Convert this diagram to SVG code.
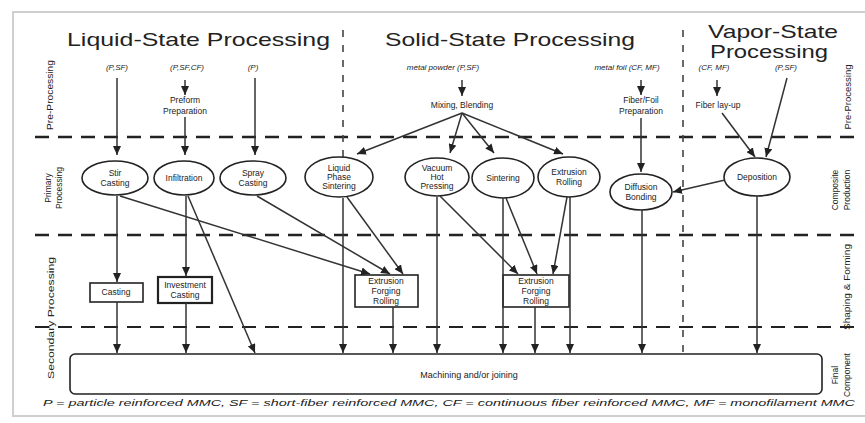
<svg xmlns="http://www.w3.org/2000/svg" width="865" height="423" viewBox="0 0 865 423">
<defs>
<marker id="ah" markerUnits="userSpaceOnUse" markerWidth="9" markerHeight="8" refX="9" refY="4" orient="auto">
<path d="M0,0 L9,4 L0,8 z" fill="#222"/>
</marker>
<style>
text{font-family:"Liberation Sans",Arial,sans-serif;fill:#222}
.title{font-size:19px}
.lbl{font-size:8.5px;text-anchor:middle}
.it{font-size:8px;font-style:italic;text-anchor:middle}
.side{font-size:8.5px;text-anchor:middle}
.node{fill:#fff;stroke:#222;stroke-width:1.6}
.hd{stroke:#222;stroke-width:2.4;stroke-dasharray:14 9;fill:none}
.vd{stroke:#444;stroke-width:1.6;stroke-dasharray:7 8;fill:none}
#connectors line{stroke:#333;stroke-width:1.5;marker-end:url(#ah)}
</style>
</defs>
<rect x="0" y="0" width="865" height="423" fill="#fff"/>
<rect x="13" y="12" width="860" height="404" fill="none" stroke="#cfcfcf" stroke-width="2"/>

<!-- titles -->
<text class="title" x="67" y="46" textLength="263" lengthAdjust="spacingAndGlyphs">Liquid-State Processing</text>
<text class="title" x="385" y="46" textLength="250" lengthAdjust="spacingAndGlyphs">Solid-State Processing</text>
<text class="title" x="708" y="38" textLength="130" lengthAdjust="spacingAndGlyphs">Vapor-State</text>
<text class="title" x="710" y="58" textLength="118" lengthAdjust="spacingAndGlyphs">Processing</text>

<!-- dashed grid -->
<g id="grid">
<line class="hd" x1="35" y1="137" x2="860" y2="137"/>
<line class="hd" x1="35" y1="235" x2="860" y2="235"/>
<line class="hd" x1="35" y1="327" x2="860" y2="327" style="stroke-width:2"/>
<line class="vd" x1="343" y1="30" x2="343" y2="157"/>
<line class="vd" x1="683" y1="30" x2="683" y2="352"/>
</g>

<!-- side labels -->
<g id="side-labels">
<text class="side" transform="translate(53,95) rotate(-90)" textLength="70" lengthAdjust="spacingAndGlyphs">Pre-Processing</text>
<text class="side" transform="translate(51,188) rotate(-90)">Primary</text>
<text class="side" transform="translate(62,188) rotate(-90)">Processing</text>
<text class="side" transform="translate(54,318) rotate(-90)" textLength="122" lengthAdjust="spacingAndGlyphs">Secondary Processing</text>
<text class="side" transform="translate(851,97) rotate(-90)" textLength="65" lengthAdjust="spacingAndGlyphs">Pre-Processing</text>
<text class="side" transform="translate(838,190) rotate(-90)">Composite</text>
<text class="side" transform="translate(850,190) rotate(-90)">Production</text>
<text class="side" transform="translate(850,287) rotate(-90)" textLength="86" lengthAdjust="spacingAndGlyphs">Shaping &amp; Forming</text>
<text class="side" transform="translate(838,375) rotate(-90)">Final</text>
<text class="side" transform="translate(850,375) rotate(-90)">Component</text>
</g>

<!-- pre-processing labels -->
<g id="pre">
<text class="it" x="117" y="70">(P,SF)</text>
<text class="it" x="187" y="70">(P,SF,CF)</text>
<text class="it" x="253" y="70">(P)</text>
<text class="lbl" x="185" y="103">Preform</text>
<text class="lbl" x="185" y="114">Preparation</text>
<text class="it" x="443" y="70">metal powder (P,SF)</text>
<text class="lbl" x="462" y="108">Mixing, Blending</text>
<text class="it" x="627" y="70">metal foil (CF, MF)</text>
<text class="lbl" x="641" y="103">Fiber/Foil</text>
<text class="lbl" x="641" y="114">Preparation</text>
<text class="it" x="714" y="70">(CF, MF)</text>
<text class="it" x="786" y="70">(P,SF)</text>
<text class="lbl" x="718" y="108">Fiber lay-up</text>
</g>

<!-- primary nodes -->
<g id="stir-casting"><ellipse class="node" cx="115" cy="178" rx="33" ry="17"/><text class="lbl" x="115" y="176">Stir</text><text class="lbl" x="115" y="186">Casting</text></g>
<g id="infiltration"><ellipse class="node" cx="184" cy="178" rx="30" ry="17"/><text class="lbl" x="184" y="181">Infiltration</text></g>
<g id="spray-casting"><ellipse class="node" cx="253" cy="178" rx="33" ry="17"/><text class="lbl" x="253" y="176">Spray</text><text class="lbl" x="253" y="186">Casting</text></g>
<g id="liquid-phase-sintering"><ellipse class="node" cx="339" cy="177" rx="34" ry="20"/><text class="lbl" x="339" y="171">Liquid</text><text class="lbl" x="339" y="180">Phase</text><text class="lbl" x="339" y="189">Sintering</text></g>
<g id="vacuum-hot-pressing"><ellipse class="node" cx="437" cy="177" rx="32" ry="19"/><text class="lbl" x="437" y="171">Vacuum</text><text class="lbl" x="437" y="180">Hot</text><text class="lbl" x="437" y="189">Pressing</text></g>
<g id="sintering"><ellipse class="node" cx="503" cy="178" rx="31" ry="20"/><text class="lbl" x="503" y="181">Sintering</text></g>
<g id="extrusion-rolling"><ellipse class="node" cx="569" cy="177" rx="31" ry="20"/><text class="lbl" x="569" y="175">Extrusion</text><text class="lbl" x="569" y="185">Rolling</text></g>
<g id="diffusion-bonding"><ellipse class="node" cx="641" cy="192" rx="31" ry="18"/><text class="lbl" x="641" y="190">Diffusion</text><text class="lbl" x="641" y="200">Bonding</text></g>
<g id="deposition"><ellipse class="node" cx="757" cy="177" rx="33" ry="19"/><text class="lbl" x="757" y="180">Deposition</text></g>

<!-- secondary nodes -->
<g id="casting"><rect class="node" x="90" y="283" width="53" height="19"/><text class="lbl" x="116" y="295">Casting</text></g>
<g id="investment-casting"><rect class="node" x="158" y="277" width="54" height="26" style="stroke-width:2.2"/><text class="lbl" x="185" y="288">Investment</text><text class="lbl" x="185" y="298">Casting</text></g>
<g id="extrusion-forging-rolling-1"><rect class="node" x="355" y="275" width="63" height="32"/><text class="lbl" x="386" y="284">Extrusion</text><text class="lbl" x="386" y="294">Forging</text><text class="lbl" x="386" y="304">Rolling</text></g>
<g id="extrusion-forging-rolling-2"><rect class="node" x="503" y="275" width="66" height="32"/><text class="lbl" x="536" y="284">Extrusion</text><text class="lbl" x="536" y="294">Forging</text><text class="lbl" x="536" y="304">Rolling</text></g>

<!-- final -->
<g id="machining"><rect class="node" x="70" y="354" width="752" height="40" rx="5"/><text class="lbl" x="469" y="378" style="font-size:9px">Machining and/or joining</text></g>

<g id="connectors">
<line x1="117" y1="78" x2="117" y2="155"/>
<line x1="185" y1="80" x2="185" y2="95"/>
<line x1="185" y1="117" x2="185" y2="155"/>
<line x1="255" y1="78" x2="255" y2="155"/>
<line x1="462" y1="80" x2="462" y2="96"/>
<line x1="462" y1="113" x2="357" y2="154"/>
<line x1="462" y1="113" x2="450" y2="153"/>
<line x1="462" y1="113" x2="494" y2="153"/>
<line x1="462" y1="113" x2="563" y2="154"/>
<line x1="641" y1="80" x2="641" y2="95"/>
<line x1="641" y1="118" x2="641" y2="172"/>
<line x1="717" y1="80" x2="717" y2="96"/>
<line x1="722" y1="113" x2="755" y2="157"/>
<line x1="787" y1="78" x2="766" y2="157"/>
<line x1="725" y1="180" x2="673" y2="192"/>
<line x1="117" y1="196" x2="117" y2="282"/>
<line x1="120" y1="196" x2="370" y2="274"/>
<line x1="186" y1="196" x2="186" y2="276"/>
<line x1="188" y1="196" x2="255" y2="353"/>
<line x1="257" y1="196" x2="390" y2="274"/>
<line x1="343" y1="198" x2="343" y2="353"/>
<line x1="347" y1="197" x2="403" y2="274"/>
<line x1="437" y1="197" x2="437" y2="353"/>
<line x1="440" y1="196" x2="518" y2="274"/>
<line x1="503" y1="198" x2="503" y2="353"/>
<line x1="506" y1="198" x2="537" y2="274"/>
<line x1="570" y1="197" x2="570" y2="353"/>
<line x1="567" y1="197" x2="553" y2="274"/>
<line x1="642" y1="210" x2="642" y2="353"/>
<line x1="757" y1="196" x2="757" y2="353"/>
<line x1="117" y1="302" x2="117" y2="353"/>
<line x1="186" y1="303" x2="186" y2="353"/>
<line x1="393" y1="307" x2="393" y2="353"/>
<line x1="535" y1="307" x2="535" y2="353"/>
</g>

<text x="43" y="406" style="font-size:9.5px;font-style:italic" textLength="812" lengthAdjust="spacingAndGlyphs">P = particle reinforced MMC, SF = short-fiber reinforced MMC, CF = continuous fiber reinforced MMC, MF = monofilament MMC</text>
</svg>
